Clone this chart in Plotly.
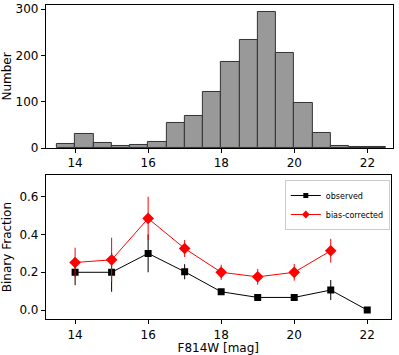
import plotly.graph_objects as go
from plotly.subplots import make_subplots

# histogram of F814W magnitudes (0.5 mag bins)
bin_edges = [13.5 + 0.5 * i for i in range(19)]
counts = [9, 31, 11, 4, 6, 14, 54, 70, 121, 185, 233, 293, 206, 98, 33, 5, 2, 2]

# binary fraction per magnitude bin
mag = [14, 15, 16, 17, 18, 19, 20, 21, 22]
obs_frac = [0.20, 0.20, 0.30, 0.203, 0.097, 0.067, 0.067, 0.106, 0.0]
obs_err = [0.068, 0.103, 0.10, 0.04, 0.015, 0.01, 0.01, 0.053, 0.0]

mag_corr = [14, 15, 16, 17, 18, 19, 20, 21]
corr_frac = [0.252, 0.266, 0.485, 0.326, 0.20, 0.176, 0.20, 0.314]
corr_err = [0.078, 0.117, 0.115, 0.045, 0.04, 0.042, 0.044, 0.063]

bin_centers = [(a + b) / 2 for a, b in zip(bin_edges[:-1], bin_edges[1:])]

fig = make_subplots(rows=2, cols=1)

fig.add_trace(
    go.Bar(
        x=bin_centers,
        y=counts,
        width=0.5,
        marker=dict(color="#999999", line=dict(color="#333333", width=1)),
        showlegend=False,
    ),
    row=1, col=1,
)

fig.add_trace(
    go.Scatter(
        x=mag,
        y=obs_frac,
        mode="lines+markers",
        line=dict(color="black", width=1),
        marker=dict(symbol="square", size=7, color="black"),
        error_y=dict(type="data", array=obs_err, color="black", thickness=1, width=0),
        showlegend=False,
    ),
    row=2, col=1,
)

fig.add_trace(
    go.Scatter(
        x=mag_corr,
        y=corr_frac,
        mode="lines+markers",
        line=dict(color="red", width=1),
        marker=dict(symbol="diamond", size=9, color="red"),
        error_y=dict(type="data", array=corr_err, color="red", thickness=1, width=0),
        showlegend=False,
    ),
    row=2, col=1,
)

# legend entries with smaller symbols
fig.add_trace(
    go.Scatter(x=[None], y=[None], name="observed", mode="lines+markers",
               line=dict(color="black", width=1),
               marker=dict(symbol="square", size=5, color="black")),
    row=2, col=1,
)
fig.add_trace(
    go.Scatter(x=[None], y=[None], name="bias-corrected", mode="lines+markers",
               line=dict(color="red", width=1),
               marker=dict(symbol="diamond", size=6, color="red")),
    row=2, col=1,
)

axis_style = dict(
    showline=True, linecolor="black", linewidth=1, mirror=True,
    ticks="outside", ticklen=4, tickcolor="black",
    showgrid=False, zeroline=False, automargin=False,
    tickfont=dict(family="DejaVu Sans", size=12, color="black"),
)
title_font = dict(family="DejaVu Sans", size=12, color="black")

fig.update_xaxes(axis_style)
fig.update_yaxes(axis_style)

fig.update_xaxes(domain=[0.115, 0.985], range=[13.2, 22.7], tickvals=[14, 16, 18, 20, 22], row=1, col=1)
fig.update_yaxes(domain=[0.583, 0.986], range=[0, 309], tickvals=[0, 100, 200, 300],
                 title=dict(text="Number", font=title_font, standoff=6),
                 row=1, col=1)

fig.update_xaxes(domain=[0.115, 0.979], range=[13.2, 22.64], tickvals=[14, 16, 18, 20, 22],
                 title=dict(text="F814W [mag]", font=title_font, standoff=3),
                 row=2, col=1)
fig.update_yaxes(domain=[0.101, 0.507], range=[-0.048, 0.715], tickvals=[0, 0.2, 0.4, 0.6],
                 tickformat=".1f",
                 title=dict(text="Binary Fraction", font=title_font, standoff=6),
                 row=2, col=1)

fig.update_layout(
    width=399,
    height=355,
    margin=dict(l=0, r=0, t=0, b=0),
    plot_bgcolor="white",
    paper_bgcolor="white",
    bargap=0,
    legend=dict(
        x=0.977, y=0.493, xanchor="right", yanchor="top",
        bgcolor="white", bordercolor="#cccccc", borderwidth=1,
        font=dict(family="DejaVu Sans", size=8, color="black"),
        tracegroupgap=0, itemwidth=30,
    ),
)

# drop the default page margin so the figure sits at the window corner
fig.write_html("out.html", config={"displayModeBar": False},
               post_script="document.body.style.margin='0';")
